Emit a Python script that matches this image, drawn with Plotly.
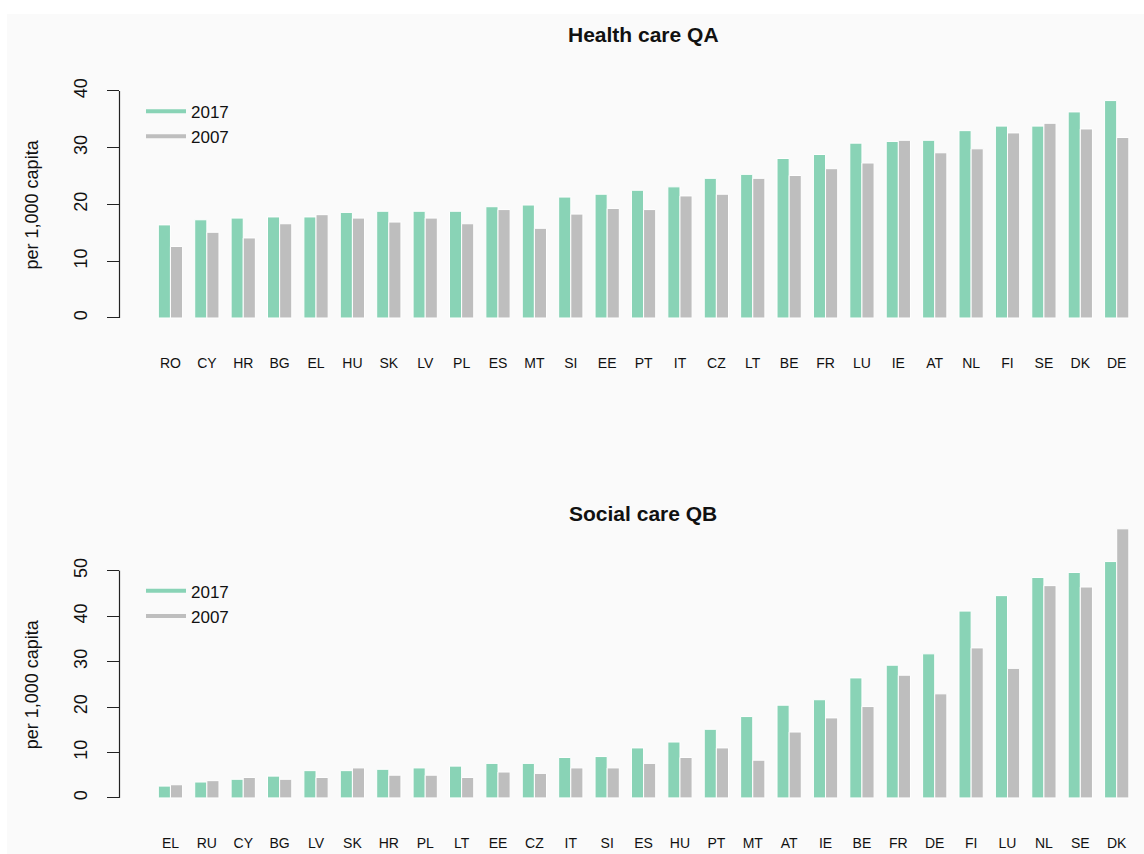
import plotly.graph_objects as go

# ---- data -------------------------------------------------------------
hc_countries = ["RO", "CY", "HR", "BG", "EL", "HU", "SK", "LV", "PL", "ES", "MT",
                "SI", "EE", "PT", "IT", "CZ", "LT", "BE", "FR", "LU", "IE", "AT",
                "NL", "FI", "SE", "DK", "DE"]
hc_2017 = [16.4, 17.3, 17.6, 17.8, 17.8, 18.6, 18.8, 18.8, 18.8, 19.6, 19.9,
           21.3, 21.8, 22.5, 23.1, 24.6, 25.3, 28.1, 28.8, 30.8, 31.1, 31.3,
           33.0, 33.8, 33.8, 36.3, 38.3]
hc_2007 = [12.6, 15.1, 14.1, 16.6, 18.2, 17.6, 16.9, 17.6, 16.6, 19.1, 15.8,
           18.3, 19.3, 19.1, 21.5, 21.8, 24.6, 25.1, 26.3, 27.3, 31.3, 29.1,
           29.8, 32.6, 34.3, 33.3, 31.8]

sc_countries = ["EL", "RU", "CY", "BG", "LV", "SK", "HR", "PL", "LT", "EE", "CZ",
                "IT", "SI", "ES", "HU", "PT", "MT", "AT", "IE", "BE", "FR", "DE",
                "FI", "LU", "NL", "SE", "DK"]
sc_2017 = [2.6, 3.5, 4.1, 4.8, 6.0, 6.0, 6.3, 6.6, 7.0, 7.6, 7.6,
           8.9, 9.1, 11.0, 12.3, 15.1, 17.9, 20.4, 21.6, 26.4, 29.2, 31.7,
           41.1, 44.5, 48.5, 49.6, 52.0]
sc_2007 = [2.9, 3.8, 4.5, 4.1, 4.5, 6.6, 5.0, 5.0, 4.5, 5.7, 5.4,
           6.6, 6.6, 7.6, 8.9, 11.0, 8.3, 14.5, 17.6, 20.1, 27.0, 22.9,
           33.0, 28.5, 46.7, 46.4, 59.2]

years = ["2017", "2007"]
hc_ticks = [0, 10, 20, 30, 40]
sc_ticks = [0, 10, 20, 30, 40, 50]

# ---- style ------------------------------------------------------------
W, H = 1144, 854
GREEN = "#89D3B6"
GREY = "#BEBEBE"
BG = "#FAFAFA"
FONT = "Liberation Sans, Arial, sans-serif"
INK = "#111111"


def px_x(p):
    return p / W


def px_y(p):
    return 1 - p / H


fig = go.Figure()

panels = [
    dict(cats=hc_countries, vals=[hc_2017, hc_2007], xa="x", ya="y",
         leg="legend", ticks=hc_ticks),
    dict(cats=sc_countries, vals=[sc_2017, sc_2007], xa="x2", ya="y2",
         leg="legend2", ticks=sc_ticks),
]

for p in panels:
    for yr, vals, col in zip(years, p["vals"], [GREEN, GREY]):
        fig.add_trace(go.Bar(
            x=p["cats"], y=vals, name=yr, xaxis=p["xa"], yaxis=p["ya"],
            marker=dict(color=col, line=dict(color="white", width=1)),
            showlegend=False, hovertemplate="%{x}: %{y}<extra>" + yr + "</extra>",
        ))
    # legend entries drawn as line keys
    for yr, col in zip(years, [GREEN, GREY]):
        fig.add_trace(go.Scatter(
            x=[None], y=[None], mode="lines", name=yr, xaxis=p["xa"], yaxis=p["ya"],
            line=dict(color=col, width=4), legend=p["leg"], showlegend=True,
        ))

xdom = [px_x(119.5), 1.0]
xrange = [-1.4, 26.75]
axis_x = dict(domain=xdom, range=xrange, type="category", showgrid=False,
              zeroline=False, showline=False, ticks="",
              tickfont=dict(family=FONT, size=14, color=INK),
              ticklabelstandoff=26)


def axis_y(dom, rng, ticks):
    return dict(domain=dom, range=rng, showgrid=False, zeroline=False,
                showline=False, ticks="outside", ticklen=12, tickwidth=1.2,
                tickcolor="#222222", tickvals=ticks, tickangle=-90,
                tickfont=dict(family=FONT, size=18, color=INK),
                ticklabelstandoff=12)


legend_style = dict(xanchor="left", yanchor="top", bgcolor="rgba(0,0,0,0)",
                    font=dict(family=FONT, size=17, color=INK),
                    tracegroupgap=0, itemwidth=40)

fig.update_layout(
    width=W, height=H,
    margin=dict(l=0, r=0, t=0, b=0),
    paper_bgcolor="white", plot_bgcolor=BG,
    barmode="group", bargap=1 / 3, bargroupgap=0,
    xaxis=dict(axis_x, anchor="y"),
    xaxis2=dict(axis_x, anchor="y2"),
    yaxis=dict(axis_y([px_y(324.6), px_y(78.2)], [-1.6, 41.6], hc_ticks), anchor="x"),
    yaxis2=dict(axis_y([px_y(806.8), px_y(514.5)], [-2.0, 62.0], sc_ticks), anchor="x2"),
    legend=dict(legend_style, x=px_x(141), y=px_y(90)),
    legend2=dict(legend_style, x=px_x(141), y=px_y(572)),
    showlegend=True,
)

# panel background and bracket-style value axes
shapes = [dict(type="rect", xref="paper", yref="paper", x0=px_x(7), x1=1,
               y0=0, y1=px_y(10), fillcolor=BG, line=dict(width=0), layer="below")]
for xa, ya, top in [("x", "y", hc_ticks[-1]), ("x2", "y2", sc_ticks[-1])]:
    shapes.append(dict(type="line", xref=xa + " domain", yref=ya,
                       x0=0, x1=0, y0=0, y1=top,
                       line=dict(color="#222222", width=1.2)))
fig.update_layout(shapes=shapes)

# titles
annotations = []
for text, ypx in [("Health care QA", 31), ("Social care QB", 512)]:
    annotations.append(dict(text="<b>" + text + "</b>", x=px_x(643), y=px_y(ypx),
                            xref="paper", yref="paper", showarrow=False,
                            xanchor="center", yanchor="middle",
                            font=dict(family=FONT, size=21, color=INK)))
for ya, mid in [("y", 20), ("y2", 25)]:
    annotations.append(dict(text="per 1,000 capita", xref="paper", yref=ya,
                            x=px_x(32), y=mid, textangle=-90, showarrow=False,
                            xanchor="center", yanchor="middle",
                            font=dict(family=FONT, size=18, color=INK)))
fig.update_layout(annotations=annotations)

fig.write_html("out.html")
